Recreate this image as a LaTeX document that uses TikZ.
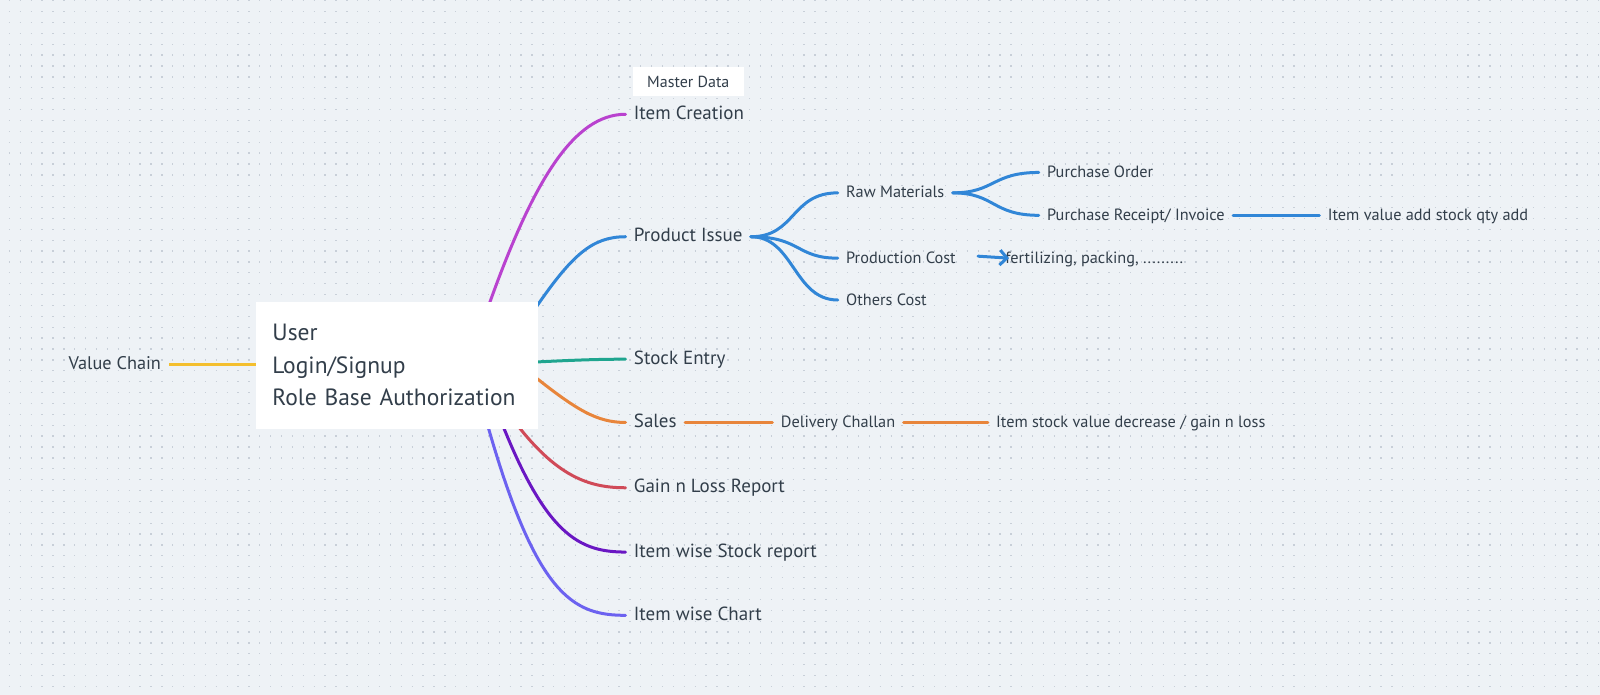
\documentclass[tikz,border=0pt]{standalone}
\usepackage{fontspec}
\setmainfont{PT Sans}
\usetikzlibrary{arrows.meta,calc}
\definecolor{bgc}{HTML}{EEF2F6}
\definecolor{dotc}{HTML}{C8CFD8}
\definecolor{txt}{HTML}{323E4A}
\definecolor{cmag}{HTML}{B942CF}
\definecolor{cblue}{HTML}{3186D7}
\definecolor{cteal}{HTML}{1FA58F}
\definecolor{corange}{HTML}{E8853B}
\definecolor{cred}{HTML}{D04A58}
\definecolor{cpurple}{HTML}{6A17C3}
\definecolor{cviolet}{HTML}{6C62F0}
\definecolor{cyellow}{HTML}{F4BF2E}
\begin{document}
\begin{tikzpicture}[x=1.0204pt,y=-1.0204pt,
  lab/.style={anchor=west,text=txt,inner xsep=8.2pt,inner ysep=0pt,text height=1em,text depth=0em},
  lone/.style={lab,font=\fontsize{19}{22}\selectfont},
  ltwo/.style={lab,font=\fontsize{16.3}{19}\selectfont},
  br/.style={line width=3pt,line cap=round},
  rootbox/.style={fill=white,text=txt,align=left,text width=250pt,inner xsep=16pt,minimum height=126.5pt,font=\fontsize{23.5}{32.5}\selectfont},
  tagbox/.style={fill=white,text=txt,minimum width=111pt,minimum height=28.6pt,inner sep=0pt,font=\fontsize{16}{18}\selectfont}
]
\useasboundingbox (0,0) rectangle (1568,681);
\fill[bgc] (0,0) rectangle (1568,681);
\foreach \r in {0,...,64}{
  \draw[dotc,line width=1.3pt,dash pattern=on 1.3pt off 9.585pt] (8.65,0.7+10.667*\r) -- (1568,0.7+10.667*\r);
}
% coordinates behind root
\coordinate (smag) at (478,302);
\coordinate (sblue) at (522,306);
\coordinate (steal) at (520,355);
\coordinate (sora) at (520,366);
\coordinate (sred) at (502,410);
\coordinate (spur) at (490,410);
\coordinate (svio) at (476,410);

% level 1 nodes
\node[lone] (itemc) at (613,112) {Item Creation};
\node[lone] (prod) at (613,232) {Product Issue};
\node[lone] (stock) at (613,352) {Stock Entry};
\node[lone] (sales) at (613,414) {Sales};
\node[lone] (gain) at (613,478) {Gain n Loss Report};
\node[lone] (iwsr) at (613,541) {Item wise Stock report};
\node[lone] (iwc) at (613,603) {Item wise Chart};
\node[tagbox] (master) at (674.5,80) {Master Data};

% value chain
\node[ltwo,font=\fontsize{18.3}{21}\selectfont] (vc) at (59,357) {Value Chain};

% level 2
\node[ltwo] (raw) at (821,189) {Raw Materials};
\node[ltwo] (pcost) at (821,253) {Production Cost};
\node[ltwo] (ocost) at (821,294) {Others Cost};
\node[ltwo] (po) at (1018,169) {Purchase Order};
\node[ltwo] (pr) at (1018,211) {Purchase Receipt/ Invoice};
\node[ltwo] (iva) at (1293,211) {Item value add stock qty add};
\node[ltwo] (fert) at (977,253) {fertilizing, packing, .........};
\node[ltwo] (dc) at (757,414) {Delivery Challan};
\node[ltwo] (isv) at (968,414) {Item stock value decrease / gain n loss};

% branches from root
\draw[br,cmag] (smag) .. controls (522,178) and (562,112) .. (itemc.west);
\draw[br,cblue] (sblue) .. controls (560,250) and (580,232) .. (prod.west);
\draw[br,cteal] (steal) .. controls (560,353) and (585,352) .. (stock.west);
\draw[br,corange] (sora) .. controls (565,402) and (585,414) .. (sales.west);
\draw[br,cred] (sred) .. controls (545,468) and (578,478) .. (gain.west);
\draw[br,cpurple] (spur) .. controls (535,525) and (568,541) .. (iwsr.west);
\draw[br,cviolet] (svio) .. controls (525,585) and (562,603) .. (iwc.west);

% root node
\node[rootbox] (root) at (389.5,358) {User\\Login/Signup\\Role Base Authorization};
\draw[br,cyellow,line cap=butt] (vc.east) -- (vc.east -| root.west);

% product issue sub-branches
\draw[br,cblue] (prod.east) .. controls (780,232) and (775,189) .. (raw.west);
\draw[br,cblue] (prod.east) .. controls (785,232) and (780,253) .. (pcost.west);
\draw[br,cblue] (prod.east) .. controls (778,232) and (778,294) .. (ocost.west);
\draw[br,cblue] (raw.east) .. controls (975,189) and (972,169) .. (po.west);
\draw[br,cblue] (raw.east) .. controls (975,189) and (972,211) .. (pr.west);
\draw[br,cblue] (pr.east) -- (iva.west);
\draw[br,cblue,-{Straight Barb[length=7pt,width=15pt,line width=3pt]}] ([xshift=14pt,yshift=2pt]pcost.east) -- ([xshift=12pt]fert.west);

% sales chain
\draw[br,corange] (sales.east) -- (dc.west);
\draw[br,corange] (dc.east) -- (isv.west);
\end{tikzpicture}
\end{document}
